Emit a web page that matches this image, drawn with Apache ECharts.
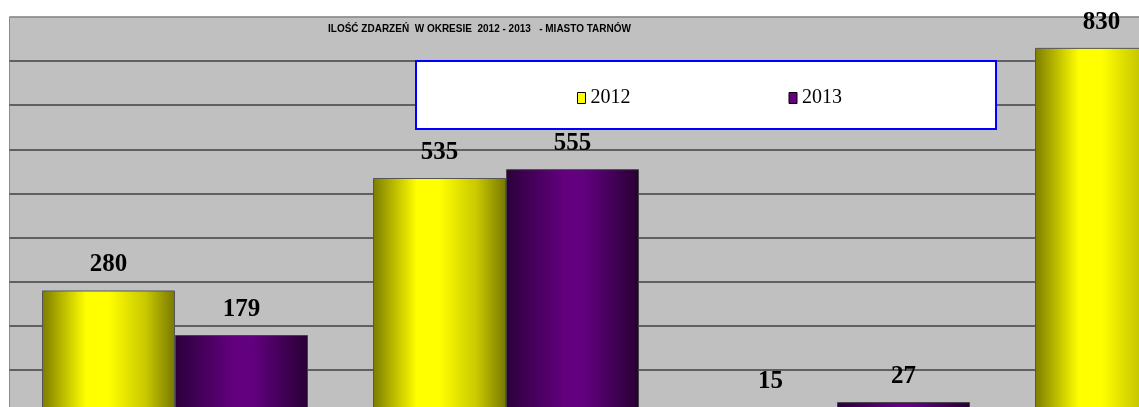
<!DOCTYPE html>
<html>
<head>
<meta charset="utf-8">
<script src="https://cdn.jsdelivr.net/npm/echarts@6/dist/echarts.min.js"></script>
<style>
  html, body { margin: 0; padding: 0; background: #fff; }
  #main { width: 1139px; height: 407px; }
</style>
</head>
<body>
<div id="main"></div>
<script>
// categories are cut off at the bottom of the picture
const categories = ["1", "2", "3", "4"];
const seriesNames = ["2012", "2013"];
const values2012 = [280, 535, 15, 830];
const values2013 = [179, 555, 27, null];
const yTicks = [0, 100, 200, 300, 400, 500, 600, 700, 800, 900];

const chartDom = document.getElementById("main");
const myChart = echarts.init(chartDom);

const yellowFill = new echarts.graphic.LinearGradient(0, 0, 1, 0, [
  { offset: 0, color: "#7c7c00" },
  { offset: 0.33, color: "#ffff00" },
  { offset: 0.5, color: "#ffff00" },
  { offset: 0.78, color: "#c8c800" },
  { offset: 1, color: "#787800" },
]);
const purpleFill = new echarts.graphic.LinearGradient(0, 0, 1, 0, [
  { offset: 0, color: "#2c003c" },
  { offset: 0.45, color: "#640080" },
  { offset: 0.58, color: "#620080" },
  { offset: 1, color: "#280034" },
]);

const labelStyle = {
  show: true,
  position: "top",
  distance: 13,
  color: "#000",
  fontFamily: "Liberation Serif",
  fontWeight: "bold",
  fontSize: 25,
};

// lighter colour for the top line (900), darker for the rest
const gridColors = yTicks.map((t, i) => (i === yTicks.length - 1 ? "#8c8c8c" : "#404040"));

const option = {
  backgroundColor: "#fff",
  animation: false,
  title: {
    text: "ILOŚĆ ZDARZEŃ  W OKRESIE  2012 - 2013   - MIASTO TARNÓW",
    left: 328,
    top: 24,
    padding: 0,
    textStyle: {
      fontFamily: "Liberation Sans",
      fontSize: 10,
      fontWeight: "bold",
      color: "#000",
    },
  },
  legend: {
    data: [
      { name: seriesNames[0], itemStyle: { color: "#ffff00", borderColor: "#000", borderWidth: 1 } },
      { name: seriesNames[1], itemStyle: { color: "#660080", borderColor: "#000", borderWidth: 1 } },
    ],
    left: 416,
    top: 61,
    padding: [27, 154, 21, 161],
    itemGap: 158,
    itemWidth: 8,
    itemHeight: 11,
    backgroundColor: "#fff",
    borderColor: "#0000ff",
    borderWidth: 2,
    borderRadius: 0,
    icon: "rect",
    textStyle: {
      fontFamily: "Liberation Serif",
      fontSize: 20,
      color: "#000",
    },
  },
  grid: {
    show: true,
    left: 9.5,
    right: -194.5,
    top: 17,
    bottom: -7,
    outerBoundsMode: "none",
    containLabel: false,
    backgroundColor: "#c0c0c0",
    borderColor: "#8c8c8c",
    borderWidth: 1,
  },
  xAxis: {
    type: "category",
    data: categories,
    axisLine: { show: false },
    axisTick: { show: false },
    axisLabel: { show: false },
  },
  yAxis: {
    type: "value",
    min: yTicks[0],
    max: yTicks[yTicks.length - 1],
    interval: 100,
    axisLine: { show: false },
    axisTick: { show: false },
    axisLabel: { show: false },
    splitLine: { lineStyle: { color: gridColors, width: 1.5 } },
  },
  series: [
    {
      name: seriesNames[0],
      type: "bar",
      data: values2012,
      barWidth: 133,
      barGap: "0%",
      itemStyle: { color: yellowFill, borderColor: "#555", borderWidth: 1 },
      label: labelStyle,
    },
    {
      name: seriesNames[1],
      type: "bar",
      data: values2013,
      barWidth: 133,
      barGap: "0%",
      itemStyle: { color: purpleFill, borderColor: "#444", borderWidth: 1 },
      label: labelStyle,
    },
  ],
};
option && myChart.setOption(option);
</script>
</body>
</html>
